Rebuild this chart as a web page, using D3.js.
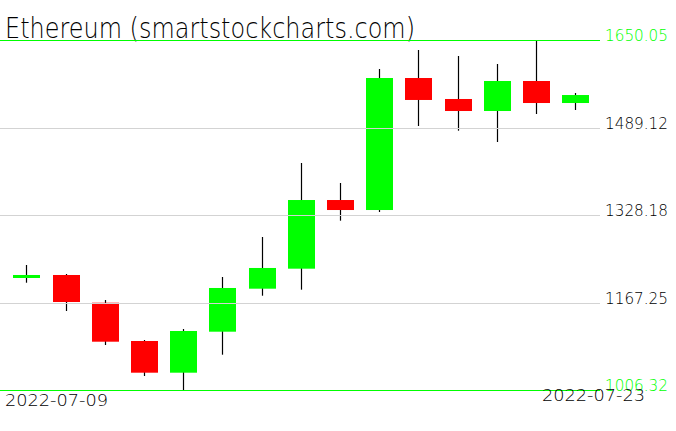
<!DOCTYPE html>
<html><head><meta charset="utf-8">
<script src="https://cdn.jsdelivr.net/npm/d3@7"></script>
<style>html,body{margin:0;padding:0;background:#fff;}svg{display:block;}</style>
</head><body>
<script>
const dates = ["2022-07-09","2022-07-10","2022-07-11","2022-07-12","2022-07-13","2022-07-14","2022-07-15","2022-07-16","2022-07-17","2022-07-18","2022-07-19","2022-07-20","2022-07-21","2022-07-22","2022-07-23"];
const open  = [1213.4,1218.4,1167.4,1097.0,1038.7,1114.1,1193.2,1230.0,1356.3,1337.9,1580.7,1542.1,1520.0,1575.2,1534.7];
const high  = [1236.8,1220.2,1172.4,1098.8,1119.1,1214.7,1288.3,1424.4,1387.6,1597.3,1632.2,1621.2,1606.5,1650.05,1553.1];
const low   = [1204.2,1152.2,1089.6,1032.6,1006.32,1071.8,1180.3,1191.4,1318.3,1334.3,1492.4,1483.8,1463.0,1514.5,1521.9];
const close = [1218.4,1168.7,1095.7,1038.7,1115.4,1194.5,1231.3,1356.3,1337.9,1580.7,1540.3,1520.0,1575.2,1534.7,1549.4];
const yTicks = [1006.32,1167.25,1328.18,1489.12,1650.05];
const xLabels = ["2022-07-09","2022-07-23"];
const title = "Ethereum (smartstockcharts.com)";

const W = 676, H = 431;
const FONT = "'DejaVu Sans', sans-serif";
const svg = d3.select("body").append("svg").attr("width", W).attr("height", H);

const data = dates.map((d,i)=>({d, o:open[i], h:high[i], l:low[i], c:close[i]}));
const x = d3.scalePoint().domain(dates).range([26.3, 575.1]);
const y = d3.scaleLinear().domain([1006.32, 1650.05]).range([390.3, 40.3]);
const bw = 27;

// title
svg.append("text").attr("x", 5).attr("y", 38)
  .attr("font-family", FONT).attr("font-weight", 200).attr("font-size", 29)
  .attr("textLength", 410).attr("lengthAdjust", "spacingAndGlyphs")
  .attr("fill", "#000").text(title);

// wicks
svg.append("g").selectAll("line").data(data).join("line")
  .attr("x1", d=>Math.round(x(d.d))+0.5).attr("x2", d=>Math.round(x(d.d))+0.5)
  .attr("y1", d=>y(d.h)).attr("y2", d=>y(d.l))
  .attr("stroke", "#000").attr("stroke-width", 1.2);

// bodies
svg.append("g").selectAll("rect").data(data).join("rect")
  .attr("x", d=>Math.round(x(d.d)) - 13)
  .attr("width", bw)
  .attr("y", d=>y(Math.max(d.o,d.c)))
  .attr("height", d=>Math.max(3, Math.abs(y(d.o)-y(d.c))))
  .attr("fill", d=> d.c >= d.o ? "#00ff00" : "#ff0000");

// gridlines (drawn over the candles)
const g = svg.append("g");
g.selectAll("line").data(yTicks).join("line")
  .attr("x1", 0).attr("x2", 600)
  .attr("y1", d=>Math.round(y(d))+0.5).attr("y2", d=>Math.round(y(d))+0.5)
  .attr("stroke", (d,i)=> (i===0||i===yTicks.length-1) ? "#00ff00" : "#d3d3d3")
  .attr("stroke-width", 1);

// right labels
g.selectAll("text").data(yTicks).join("text")
  .attr("x", 605).attr("y", d=>Math.round(y(d))+1)
  .attr("font-family", FONT).attr("font-weight", 200).attr("font-size", 15)
  .attr("textLength", 63).attr("lengthAdjust", "spacingAndGlyphs")
  .attr("fill", (d,i)=> (i===0||i===yTicks.length-1) ? "#00ff00" : "#000")
  .text(d=>d.toFixed(2));

// bottom date labels
svg.append("text").attr("x", 5).attr("y", 406)
  .attr("font-family", FONT).attr("font-weight", 200).attr("font-size", 15)
  .attr("textLength", 103).attr("lengthAdjust", "spacingAndGlyphs")
  .attr("fill", "#000").text(xLabels[0]);
svg.append("text").attr("x", 542).attr("y", 401)
  .attr("font-family", FONT).attr("font-weight", 200).attr("font-size", 15)
  .attr("textLength", 103).attr("lengthAdjust", "spacingAndGlyphs")
  .attr("fill", "#000").text(xLabels[1]);
</script>
</body></html>
